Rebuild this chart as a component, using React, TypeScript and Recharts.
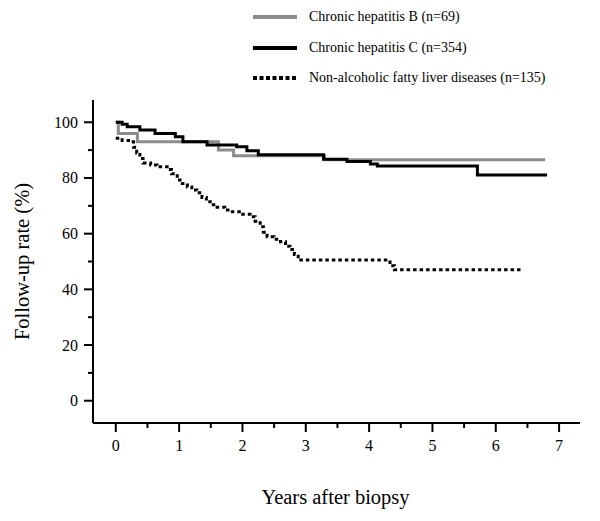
import React from "react";
import { LineChart, Line, XAxis, YAxis } from "recharts";

// Kaplan-Meier style step curves
const HBV_X = [0, 0.04, 0.34, 1.62, 1.86, 3.3, 6.78];
const HBV_Y = [100, 96, 93, 90, 88, 86.5, 86.5];

const HCV_X = [0, 0.1, 0.18, 0.38, 0.62, 0.94, 1.06, 1.44, 1.91, 2.07, 2.25, 3.28, 3.65, 4.02, 4.13, 5.71, 6.81];
const HCV_Y = [100, 99.3, 98.4, 97.2, 96, 94.8, 93, 91.8, 91.2, 89.8, 88.3, 86.7, 85.9, 85, 84.3, 81.1, 81.1];

const NAFLD_X = [
  0, 0.1, 0.23, 0.28, 0.33, 0.38, 0.43, 0.55, 0.65, 0.81, 0.88, 0.97, 1.05, 1.13, 1.2, 1.28, 1.36, 1.43,
  1.49, 1.6, 1.72, 1.81, 1.95, 2.12, 2.2, 2.28, 2.33, 2.39, 2.5, 2.6, 2.68, 2.75, 2.82, 2.88, 4.33, 4.4, 6.39,
];
const NAFLD_Y = [
  94.3, 93.5, 93, 91, 89, 87, 85.4, 84.7, 84, 83, 81.5, 79.3, 78, 76.8, 75.7, 74.7, 73, 71.5,
  70.4, 69.5, 68.5, 67.9, 67, 66.1, 64.5, 62.5, 60.5, 58.9, 58, 57.1, 55.5, 54.3, 52.5, 50.5, 48.5, 47, 47,
];

const X_TICKS = [0, 0.5, 1, 1.5, 2, 2.5, 3, 3.5, 4, 4.5, 5, 5.5, 6, 6.5, 7];
const Y_TICKS = [0, 10, 20, 30, 40, 50, 60, 70, 80, 90, 100];

const SERIES = [
  { name: "Chronic hepatitis B (n=69)", xs: HBV_X, ys: HBV_Y, color: "#8c8c8c", dash: undefined },
  { name: "Chronic hepatitis C (n=354)", xs: HCV_X, ys: HCV_Y, color: "#000", dash: undefined },
  { name: "Non-alcoholic fatty liver diseases (n=135)", xs: NAFLD_X, ys: NAFLD_Y, color: "#000", dash: "3.5 3" },
];

const FONT = "'Liberation Serif', 'Times New Roman', serif";

const toPoints = (xs: number[], ys: number[]) => xs.map((x, i) => ({ x, y: ys[i] }));

const YTick = (props: any) => {
  const { x, y, payload } = props;
  const major = payload.value % 20 === 0;
  return (
    <g>
      <line x1={x - (major ? 9 : 5)} x2={x} y1={y} y2={y} stroke="#000" strokeWidth={2} />
      {major && (
        <text x={x - 15} y={y} dy={5.5} textAnchor="end" fontSize={16} fontFamily={FONT} fill="#000">
          {payload.value}
        </text>
      )}
    </g>
  );
};

const XTick = (props: any) => {
  const { x, y, payload } = props;
  const major = Number.isInteger(payload.value);
  return (
    <g>
      <line x1={x} x2={x} y1={y} y2={y + (major ? 9 : 5)} stroke="#000" strokeWidth={2} />
      {major && (
        <text x={x} y={y + 28} textAnchor="middle" fontSize={16} fontFamily={FONT} fill="#000">
          {payload.value}
        </text>
      )}
    </g>
  );
};

export default function App() {
  return (
    <div style={{ position: "absolute", left: 0, top: 0, width: 600, height: 521, background: "#fff", fontFamily: FONT }}>
      <div style={{ position: "absolute", left: 253, top: 0 }}>
        {SERIES.map((s, i) => (
          <div key={s.name} style={{ position: "absolute", top: 17 + i * 30.5 - 10, left: 0, height: 20, display: "flex", alignItems: "center", whiteSpace: "nowrap" }}>
            <svg width={44} height={6} style={{ display: "block" }}>
              <line x1={0} x2={44} y1={3} y2={3} stroke={s.color} strokeWidth={4} strokeDasharray={s.dash ? "4 2.5" : undefined} />
            </svg>
            <span style={{ marginLeft: 12, fontSize: 14, color: "#000" }}>{s.name}</span>
          </div>
        ))}
      </div>
      <LineChart width={600} height={521} margin={{ top: 100, right: 20, left: 33, bottom: 58 }}>
        <XAxis
          type="number"
          dataKey="x"
          domain={[-0.36, 7.33]}
          ticks={X_TICKS}
          interval={0}
          tickLine={false}
          tickSize={0}
          tickMargin={0}
          height={40}
          axisLine={{ stroke: "#000", strokeWidth: 2 }}
          tick={<XTick />}
          allowDataOverflow
          label={{
            content: (p: any) => {
              const vb = p.viewBox;
              return (
                <text x={vb.x + vb.width / 2 - 1} y={vb.y + 81} textAnchor="middle" fontSize={20.5} fontFamily={FONT} fill="#000">
                  Years after biopsy
                </text>
              );
            },
          }}
        />
        <YAxis
          type="number"
          dataKey="y"
          domain={[-8, 108]}
          ticks={Y_TICKS}
          interval={0}
          tickLine={false}
          tickSize={0}
          tickMargin={0}
          width={60}
          axisLine={{ stroke: "#000", strokeWidth: 2 }}
          tick={<YTick />}
          allowDataOverflow
          label={{
            content: (p: any) => {
              const vb = p.viewBox;
              const cx = vb.x - 11;
              const cy = vb.y + vb.height / 2;
              return (
                <text x={cx} y={cy} dy={7} textAnchor="middle" fontSize={20.5} fontFamily={FONT} fill="#000" transform={`rotate(-90 ${cx} ${cy})`}>
                  Follow-up rate (%)
                </text>
              );
            },
          }}
        />
        {SERIES.map((s) => (
          <Line
            key={s.name}
            data={toPoints(s.xs, s.ys)}
            dataKey="y"
            name={s.name}
            type="stepAfter"
            stroke={s.color}
            strokeWidth={3}
            strokeDasharray={s.dash}
            dot={false}
            activeDot={false}
            isAnimationActive={false}
          />
        ))}
      </LineChart>
    </div>
  );
}
